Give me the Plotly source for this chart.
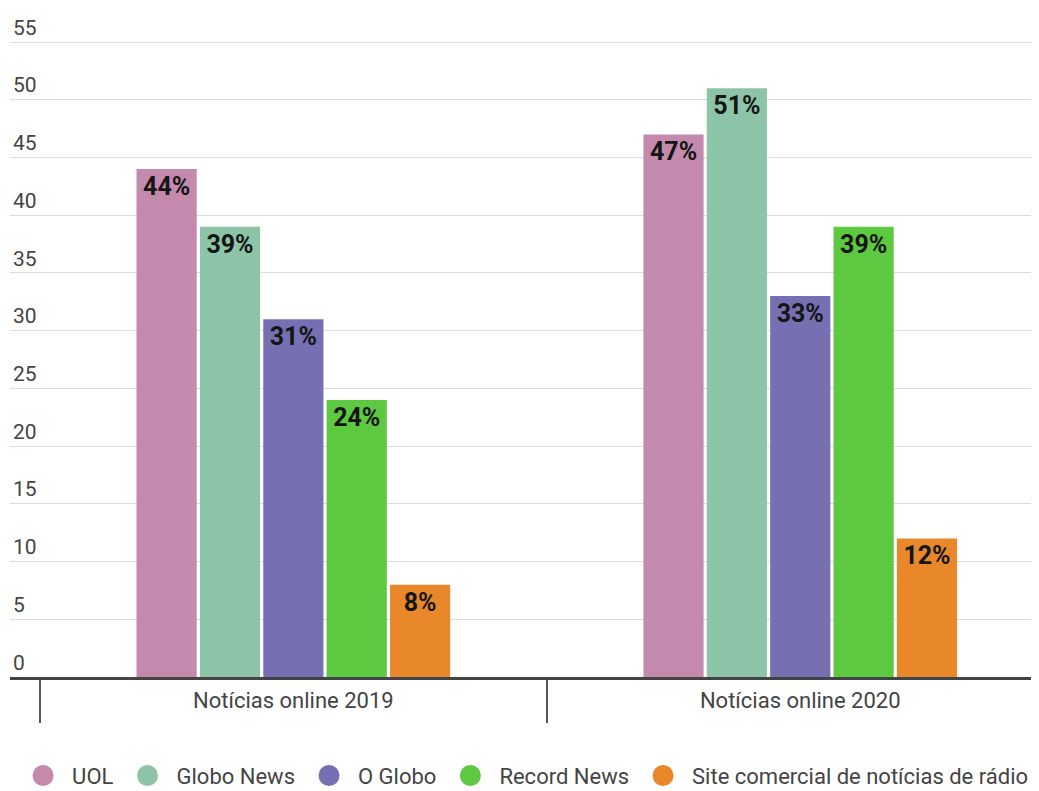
import plotly.graph_objects as go

categories = ["Notícias online 2019", "Notícias online 2020"]
series_names = ["UOL", "Globo News", "O Globo", "Record News", "Site comercial de notícias de rádio"]
uol = [44, 47]
globo_news = [39, 51]
o_globo = [31, 33]
record_news = [24, 39]
site_radio = [8, 12]
series_values = [uol, globo_news, o_globo, record_news, site_radio]
colors = ["#C48AAE", "#8DC4A8", "#7670B3", "#5DC940", "#E8882B"]
y_ticks = [0, 5, 10, 15, 20, 25, 30, 35, 40, 45, 50, 55]

fig = go.Figure()
for name, vals, col in zip(series_names, series_values, colors):
    fig.add_trace(go.Bar(
        x=categories, y=vals, name=name, marker=dict(color=col, line=dict(width=0)),
        texttemplate="%{y}%", textposition="inside", insidetextanchor="end",
        insidetextfont=dict(family="Roboto", size=25, color="#151515", weight="bold"),
        showlegend=False, hoverinfo="skip",
    ))
for name, col in zip(series_names, colors):
    fig.add_trace(go.Scatter(
        x=[None], y=[None], mode="markers", name=name,
        marker=dict(color=col, size=16, symbol="circle", line=dict(color=col, width=5)),
    ))

fig.update_layout(
    width=1031, height=783,
    margin=dict(l=2, r=0, t=11, b=114, autoexpand=False),
    paper_bgcolor="white", plot_bgcolor="white",
    barmode="group", bargap=0.375, bargroupgap=0.05,
    font=dict(family="Roboto", color="#444444"),
    legend=dict(
        orientation="h", x=0.004, xanchor="left", y=-0.15, yanchor="middle",
        font=dict(size=22, color="#444444"), itemwidth=48,
        bgcolor="rgba(0,0,0,0)",
    ),
)
fig.update_xaxes(
    type="category", range=[-0.559, 1.471],
    showline=True, linecolor="#444444", linewidth=3,
    ticks="outside", tickson="boundaries", ticklen=43, tickwidth=1.5, tickcolor="#555555",
    tickfont=dict(size=22, color="#444444"), ticklabelstandoff=2,
    showgrid=False, zeroline=False,
)
fig.update_yaxes(
    range=[0, 57], tickvals=y_ticks, ticktext=[str(v) for v in y_ticks],
    showgrid=True, gridcolor="#DDDDDD", gridwidth=1,
    ticklabelposition="inside top", ticklabeloverflow="allow",
    tickfont=dict(size=21, color="#444444"),
    zeroline=False, showline=False, ticks="",
)

fig.write_html("out.html")
